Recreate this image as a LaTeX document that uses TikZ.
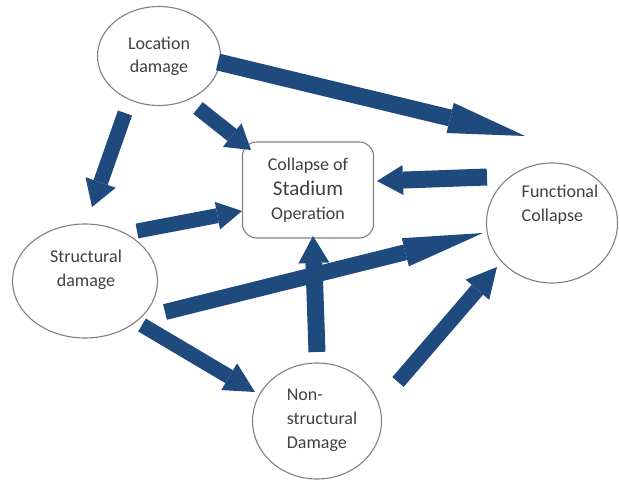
\documentclass[tikz,border=0pt]{standalone}
\usepackage{fontspec}
\setmainfont{Carlito}
\usetikzlibrary{arrows.meta,calc,shapes.geometric}
\definecolor{arrowblue}{HTML}{1F4A7D}
\definecolor{rimgray}{HTML}{808080}
\definecolor{labelgray}{HTML}{404040}

\begin{document}
\begin{tikzpicture}[x=1pt,y=-1pt,
  bubble/.style={ellipse,draw=rimgray,line width=1.1pt,inner sep=0pt},
  hub/.style={rectangle,rounded corners=14pt,draw=rimgray,line width=1.1pt,
    inner sep=0pt,minimum width=131pt,minimum height=96pt,align=center,
    text=labelgray,font=\fontsize{18}{24}\selectfont},
  lbl/.style={text=labelgray,font=\fontsize{18}{24}\selectfont,inner sep=0pt},
  flow/.style n args={3}{draw=arrowblue,line width=#1,
    -{Triangle[length=#2,width=#3,line width=0pt]}}]

  \useasboundingbox (0,0) rectangle (619,482);

  % event nodes
  \node[bubble,minimum width=123pt,minimum height=99pt,align=center,
        text=labelgray,font=\fontsize{18}{23}\selectfont]
        (loc) at (159,56) {Location\\damage};
  \node[bubble,minimum width=145pt,minimum height=114pt] (str) at (85,281) {};
  \node[bubble,minimum width=131pt,minimum height=120pt] (fun) at (552,223) {};
  \node[bubble,minimum width=129pt,minimum height=116pt] (non) at (317,421) {};
  \node[hub] (hub) at (308,190)
        {Collapse of\\[1pt]{\fontsize{21}{24}\selectfont Stadium}\\Operation};

  % labels inside the ellipses
  \node[lbl,align=center] (strtxt) at ($(str)+(1,-11)$) {Structural\\damage};
  \node[lbl,align=left] (funtxt) at ($(fun)+(8,-18)$) {Functional\\Collapse};
  \node[lbl,align=left] (nontxt) at ($(non)+(5,-1)$) {Non-\\structural\\Damage};

  % block arrows
  \draw[flow={17pt}{77pt}{31pt}] ($(loc)+(59,6)$)   -- ($(fun)+(-27,-87)$);
  \draw[flow={15pt}{24pt}{30pt}] ($(loc)+(39,52)$)  -- ($(hub)+(-57,-40)$);
  \draw[flow={15pt}{26pt}{32pt}] ($(loc)+(-34,57)$) -- ($(str)+(7,-74)$);
  \draw[flow={15pt}{25pt}{28pt}] ($(str)+(52,-50)$) -- ($(hub)+(-66,21)$);
  \draw[flow={17pt}{26pt}{30pt}] ($(fun)+(-65,-46)$) -- ($(hub)+(69,-9)$);
  \draw[flow={16pt}{80pt}{29pt}] ($(str)+(80,31)$)  -- ($(fun)+(-69,10)$);
  \draw[flow={17pt}{27pt}{31pt}] ($(non)+(0,-69)$)  -- ($(hub)+(5,46)$);
  \draw[flow={15pt}{30pt}{31pt}] ($(str)+(57,44)$)  -- ($(non)+(-62,-29)$);
  \draw[flow={15pt}{30pt}{31pt}] ($(non)+(81,-39)$) -- ($(fun)+(-55,44)$);
\end{tikzpicture}
\end{document}
